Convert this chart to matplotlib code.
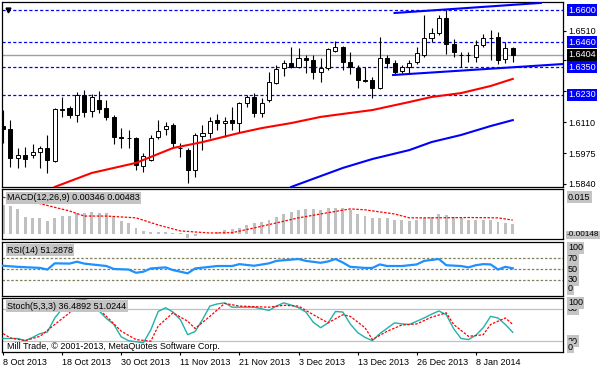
import matplotlib
matplotlib.use('Agg')
import matplotlib.pyplot as plt
import numpy as np

plt.rcParams['font.family'] = ['Liberation Sans', 'DejaVu Sans']
plt.rcParams['font.size'] = 6.5

# daily candles, 8 Oct 2013 .. 14 Jan 2014
opens = [1.6093, 1.6080, 1.5953, 1.5966, 1.5966, 1.5980, 1.5997, 1.5940, 1.6165, 1.6172,
         1.6141, 1.6229, 1.6159, 1.6207, 1.6172, 1.6132, 1.6043, 1.6040, 1.6042, 1.5918,
         1.5945, 1.6045, 1.6080, 1.6097, 1.5999, 1.5988, 1.5901, 1.6050, 1.6063, 1.6119,
         1.6106, 1.6119, 1.6106, 1.6194, 1.6220, 1.6150, 1.6207, 1.6281, 1.6347, 1.6368,
         1.6351, 1.6390, 1.6382, 1.6329, 1.6347, 1.6421, 1.6438, 1.6373, 1.6347, 1.6294,
         1.6294, 1.6259, 1.6390, 1.6368, 1.6334, 1.6351, 1.6373, 1.6403, 1.6478, 1.6500,
         1.6565, 1.6451, 1.6403, 1.6403, 1.6395, 1.6447, 1.6478, 1.6482, 1.6386, 1.6434]
highs = [1.6163, 1.6119, 1.5997, 1.6001, 1.6015, 1.6006, 1.6054, 1.6172, 1.6220, 1.6180,
         1.6242, 1.6250, 1.6233, 1.6246, 1.6207, 1.6141, 1.6085, 1.6076, 1.6045, 1.5975,
         1.6054, 1.6119, 1.6111, 1.6106, 1.6019, 1.5997, 1.6063, 1.6097, 1.6132, 1.6146,
         1.6132, 1.6176, 1.6198, 1.6229, 1.6237, 1.6216, 1.6329, 1.6360, 1.6382, 1.6438,
         1.6434, 1.6403, 1.6403, 1.6390, 1.6434, 1.6465, 1.6443, 1.6416, 1.6360, 1.6351,
         1.6307, 1.6482, 1.6403, 1.6382, 1.6360, 1.6382, 1.6438, 1.6578, 1.6521, 1.6578,
         1.6600, 1.6473, 1.6417, 1.6417, 1.6469, 1.6495, 1.6513, 1.6504, 1.6460, 1.6438]
lows = [1.6019, 1.5914, 1.5910, 1.5914, 1.5953, 1.5910, 1.5888, 1.5936, 1.6132, 1.6128,
        1.6111, 1.6132, 1.6132, 1.6150, 1.6119, 1.6015, 1.5997, 1.5997, 1.5901, 1.5892,
        1.5940, 1.6036, 1.6054, 1.6001, 1.5958, 1.5844, 1.5870, 1.5988, 1.6041, 1.6076,
        1.6045, 1.6076, 1.6063, 1.6176, 1.6132, 1.6132, 1.6198, 1.6277, 1.6312, 1.6347,
        1.6347, 1.6325, 1.6299, 1.6285, 1.6338, 1.6416, 1.6338, 1.6320, 1.6259, 1.6285,
        1.6216, 1.6255, 1.6347, 1.6316, 1.6325, 1.6325, 1.6364, 1.6395, 1.6460, 1.6491,
        1.6408, 1.6395, 1.6351, 1.6373, 1.6373, 1.6438, 1.6382, 1.6364, 1.6368, 1.6373]
closes = [1.6080, 1.5953, 1.5966, 1.5949, 1.5980, 1.5997, 1.5945, 1.6167, 1.6169, 1.6141,
          1.6229, 1.6155, 1.6220, 1.6167, 1.6132, 1.6045, 1.6040, 1.6042, 1.5923, 1.5962,
          1.6040, 1.6071, 1.6093, 1.6019, 1.5997, 1.5901, 1.6054, 1.6063, 1.6115, 1.6106,
          1.6115, 1.6106, 1.6194, 1.6220, 1.6150, 1.6194, 1.6285, 1.6342, 1.6368, 1.6351,
          1.6390, 1.6382, 1.6329, 1.6347, 1.6429, 1.6438, 1.6373, 1.6351, 1.6294, 1.6292,
          1.6259, 1.6390, 1.6368, 1.6329, 1.6351, 1.6368, 1.6412, 1.6478, 1.6500, 1.6565,
          1.6451, 1.6417, 1.6405, 1.6405, 1.6447, 1.6478, 1.6476, 1.6382, 1.6434, 1.6404]

date_idx = [0, 8, 16, 24, 32, 40, 48, 56, 64]
date_labels = ['8 Oct 2013', '18 Oct 2013', '30 Oct 2013', '11 Nov 2013', '21 Nov 2013',
               '3 Dec 2013', '13 Dec 2013', '26 Dec 2013', '8 Jan 2014']

# moving averages (red = shorter one, blue = longer one)
ma_red_idx = [7, 12, 18, 23, 27, 32, 35, 39, 43, 46, 50, 55, 58, 62, 66, 69]
ma_red_val = [1.5827, 1.5888, 1.5932, 1.5997, 1.6023, 1.6063, 1.6084, 1.6106, 1.6133,
              1.6146, 1.6163, 1.6198, 1.6220, 1.6237, 1.6268, 1.6299]
ma_blue_idx = [39, 46, 50, 55, 58, 62, 66, 69]
ma_blue_val = [1.5827, 1.5910, 1.5949, 1.5988, 1.6023, 1.6054, 1.6093, 1.6119]

# channel trendlines
chan_up_idx = [53, 72.8]
chan_up_val = [1.6587, 1.6631]
chan_lo_idx = [52.8, 75.8]
chan_lo_val = [1.6316, 1.6364]

levels = [1.6600, 1.6460, 1.6350, 1.6230]
bid = 1.6404
price_ticks = [1.5840, 1.5975, 1.6110, 1.6245, 1.6380, 1.6510]

# MACD histogram, one value per bar
macd_hist = [0.0100, 0.0097, 0.0086, 0.0060, 0.0056, 0.0056, 0.0045, 0.0056, 0.0062, 0.0063,
             0.0072, 0.0072, 0.0076, 0.0072, 0.0072, 0.0063, 0.0045, 0.0039, 0.0022, 0.0012,
             0.0009, 0.0009, 0.0009, 0.0006, 0.0005, -0.0012, -0.0004, 0.0001, 0.0003, 0.0009,
             0.0015, 0.0019, 0.0023, 0.0032, 0.0039, 0.0042, 0.0049, 0.0060, 0.0069, 0.0076,
             0.0083, 0.0086, 0.0086, 0.0083, 0.0088, 0.0090, 0.0088, 0.0083, 0.0068, 0.0062,
             0.0055, 0.0055, 0.0055, 0.0049, 0.0049, 0.0045, 0.0049, 0.0055, 0.0060, 0.0068,
             0.0066, 0.0060, 0.0055, 0.0049, 0.0049, 0.0049, 0.0049, 0.0043, 0.0038, 0.00346]
macd_sig_idx = [0, 4, 9, 11, 14, 18, 21, 24, 28, 31, 34, 37, 40, 43, 47, 49, 53, 55, 58, 63, 67, 69]
macd_sig_val = [0.0125, 0.0110, 0.0079, 0.0062, 0.0062, 0.0056, 0.0032, 0.0012, 0.0005, 0.0006,
                0.0022, 0.0039, 0.0056, 0.0069, 0.0086, 0.0083, 0.0069, 0.0056, 0.0056, 0.0057,
                0.0056, 0.00483]

rsi_idx = [0, 2, 5, 6, 7, 9, 10, 11, 13, 14, 15, 17, 18, 19, 20, 22, 23, 25, 26, 28, 29, 31,
           32, 34, 36, 37, 40, 41, 43, 44, 45, 46, 47, 49, 50, 51, 52, 54, 56, 57, 59, 60, 62,
           63, 64, 65, 66, 67, 68, 69]
rsi_val = [56, 54, 52, 49, 60.5, 60, 63.5, 60, 57, 55.5, 50, 49, 43, 45, 51, 53, 48, 42, 51, 54,
           55.5, 55.5, 59, 56, 60.5, 65, 68.5, 65, 61.5, 64, 68.5, 62, 54, 52, 52, 58.5, 55.5,
           55.5, 58.5, 65, 68.5, 57, 55.5, 53, 57, 59, 58.5, 49, 54, 51.29]

stoch_main = [25, 25, 25, 21, 27, 34, 37, 63, 80, 93, 96, 97, 94, 76, 62, 51, 28, 21, 19, 17,
              41, 75, 82, 74, 60, 32, 38, 60, 85, 89, 91, 83, 83, 83, 83, 80, 77, 85, 91, 87,
              82, 74, 55, 45, 54, 75, 74, 52, 36, 27, 21, 34, 44, 54, 52, 51, 57, 63, 70, 76,
              69, 43, 25, 23, 31, 45, 66, 63, 51, 36.49]
stoch_sig_idx = [0, 1, 3, 5, 7, 9, 10, 12, 14, 16, 18, 20, 21, 23, 25, 26, 28, 30, 32, 36, 38,
                 40, 42, 44, 46, 47, 49, 50, 52, 54, 56, 58, 60, 61, 63, 65, 66, 68, 69]
stoch_sig_val = [34, 26, 21, 29, 51, 72.5, 93, 91, 66, 38.5, 23, 20, 48, 72.5, 57, 43.5, 66, 90,
                 85, 83, 86.5, 85, 69, 54, 69, 66, 45, 23, 38.5, 50, 52, 64.5, 72.5, 51, 29,
                 32, 51, 63, 51.02]

W, H = 600, 369
fig = plt.figure(figsize=(6, 3.69), dpi=100)
fig.patch.set_facecolor('white')


def px_axes(x0, y0, x1, y1):
    return fig.add_axes([x0 / W, 1 - y1 / H, (x1 - x0) / W, (y1 - y0) / H])


ax = px_axes(2, 2, 563, 187)
ax_macd = px_axes(2, 189, 563, 239)
ax_rsi = px_axes(2, 242, 563, 296)
ax_st = px_axes(2, 298, 563, 352)

xlim = (-0.14, 75.8)
for a in (ax, ax_macd, ax_rsi, ax_st):
    a.set_xlim(*xlim)
    for s in a.spines.values():
        s.set_color('black')
        s.set_linewidth(0.9)
    a.set_xticks([])
    a.set_yticks([])

# ---- price panel
x = np.arange(len(opens))
o = np.array(opens); c = np.array(closes)
up = c >= o
ax.vlines(x, lows, highs, color='black', lw=0.8, zorder=3)
body_lo = np.minimum(o, c)
body_h = np.abs(c - o)
ax.bar(x, body_h, bottom=body_lo, width=0.55, color=np.where(up, 'white', 'black'),
       edgecolor='black', linewidth=0.7, zorder=4)

for lv in levels:
    ax.axhline(lv, color='#0000ff', lw=0.9, ls=(0, (2.5, 1.8)), zorder=2)
ax.axhline(bid, color='#a0a0a0', lw=1.0, zorder=2)

ax.plot(ma_red_idx, ma_red_val, color='#ff0000', lw=1.5, zorder=5)
ax.plot(ma_blue_idx, ma_blue_val, color='#0000ff', lw=1.5, zorder=5)
ax.plot(chan_up_idx, chan_up_val, color='#0000ff', lw=1.5, zorder=5)
ax.plot(chan_lo_idx, chan_lo_val, color='#0000ff', lw=1.5, zorder=5)
ax.plot([0.0107], [0.957], marker='v', color='black', ms=3.5, transform=ax.transAxes,
        clip_on=False)

ax.set_ylim(1.58267, 1.6635)
ax.yaxis.tick_right()
ax.set_yticks(price_ticks)
ax.set_yticklabels(['%.4f' % t for t in price_ticks])
ax.tick_params(axis='y', length=2, pad=2, labelsize=6.5, colors='black')

lx = 1 + 5 / 561
for lv in levels:
    ax.text(lx, lv, '%.4f' % lv, transform=ax.get_yaxis_transform(), color='white',
            va='center', ha='left', fontsize=6.5, zorder=10, clip_on=False,
            bbox=dict(boxstyle='square,pad=0.15', fc='#0000ff', ec='none'))
ax.text(lx, bid, '%.4f' % bid, transform=ax.get_yaxis_transform(), color='white',
        va='center', ha='left', fontsize=6.5, zorder=10, clip_on=False,
        bbox=dict(boxstyle='square,pad=0.15', fc='black', ec='none'))

grey_box = dict(boxstyle='square,pad=0.15', fc='#c4c4c4', ec='none')

# ---- MACD
ax_macd.bar(x, macd_hist, width=0.4, color='#c0c0c0', zorder=2)
ax_macd.plot(macd_sig_idx, macd_sig_val, color='#ff0000', lw=0.9, ls=(0, (2, 1.2)), zorder=3)
ax_macd.set_ylim(-0.00152, 0.0153)
ax_macd.text(0.009, 0.82, 'MACD(12,26,9) 0.00346 0.00483', transform=ax_macd.transAxes,
             va='center', ha='left', bbox=grey_box, zorder=10)
ax_macd.text(lx, 0.84, '0.015', transform=ax_macd.transAxes, va='center', ha='left',
             bbox=grey_box, clip_on=False)
ax_macd.text(1 + 3.5 / 561, 0.08, '-0.00148', transform=ax_macd.transAxes, va='center',
             ha='left', fontsize=5.9, bbox=dict(boxstyle='square,pad=0.1', fc='#c4c4c4', ec='none'),
             clip_on=False)

# ---- RSI
for lv in (70, 50, 30):
    ax_rsi.axhline(lv, color='#80805c', lw=0.9, ls=(0, (2, 1.5)), zorder=2)
ax_rsi.plot(rsi_idx, rsi_val, color='#1e90ff', lw=1.6, zorder=3)
ax_rsi.set_ylim(0, 100)
ax_rsi.text(0.009, 0.85, 'RSI(14) 51.2878', transform=ax_rsi.transAxes,
            va='center', ha='left', bbox=grey_box, zorder=10)
rsi_tr = ax_rsi.get_yaxis_transform()
ax_rsi.text(lx, 0.89, '100', transform=ax_rsi.transAxes, va='center', ha='left',
            bbox=grey_box, clip_on=False)
for lv in (70, 50, 30):
    ax_rsi.text(lx, lv, str(lv), transform=rsi_tr, va='center', ha='left',
                bbox=grey_box, clip_on=False)
ax_rsi.text(lx, 0.13, '0', transform=ax_rsi.transAxes, va='center', ha='left',
            bbox=grey_box, clip_on=False)

# ---- Stochastic
for lv in (80, 20):
    ax_st.axhline(lv, color='#c0c0c0', lw=0.9, zorder=1)
ax_st.plot(x, stoch_main, color='#20b2aa', lw=1.0, zorder=3)
ax_st.plot(stoch_sig_idx, stoch_sig_val, color='#ff0000', lw=0.9, ls=(0, (2, 1.2)), zorder=3)
ax_st.set_ylim(0, 100)
ax_st.text(0.009, 0.85, 'Stoch(5,3,3) 36.4892 51.0244', transform=ax_st.transAxes,
           va='center', ha='left', bbox=grey_box, zorder=10)
ax_st.text(0.009, 0.11, 'Mill Trade, \u00a9 2001-2013, MetaQuotes Software Corp.',
           transform=ax_st.transAxes, va='center', ha='left', zorder=10)
st_tr = ax_st.get_yaxis_transform()
ax_st.text(lx, 80, '80', transform=st_tr, va='center', ha='left', bbox=grey_box, clip_on=False)
ax_st.text(lx, 0.91, '100', transform=ax_st.transAxes, va='center', ha='left',
           bbox=grey_box, clip_on=False)
ax_st.text(lx, 20, '20', transform=st_tr, va='center', ha='left', bbox=grey_box, clip_on=False)
ax_st.text(lx, 0.09, '0', transform=ax_st.transAxes, va='center', ha='left',
           bbox=grey_box, clip_on=False)

ax_st.set_xticks(date_idx)
ax_st.set_xticklabels(date_labels, ha='left')
ax_st.tick_params(axis='x', length=2, pad=2, labelsize=6.5)

fig.savefig('out.png', dpi=100)
